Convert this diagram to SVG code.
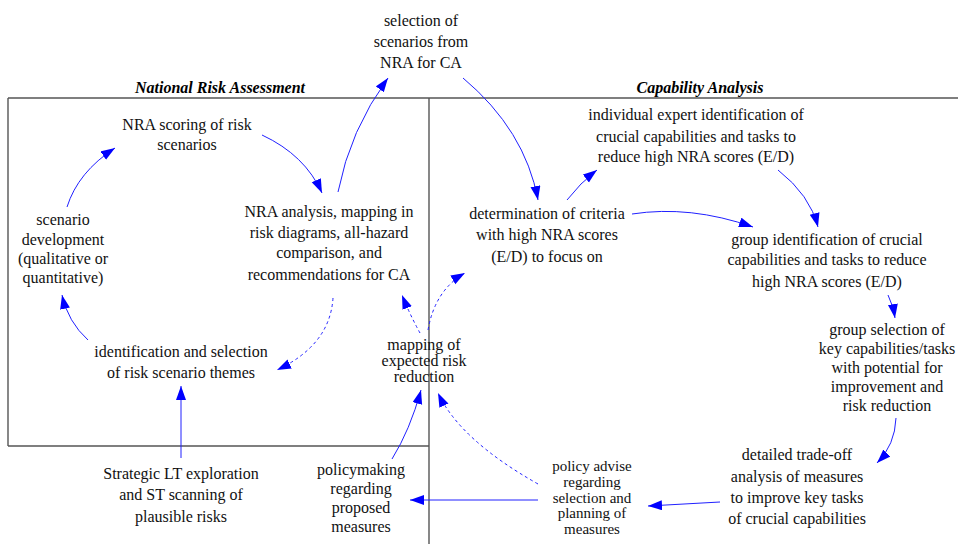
<svg xmlns="http://www.w3.org/2000/svg" width="958" height="544" viewBox="0 0 958 544">
<style>
.frame{stroke:#555;stroke-width:1.4;fill:none}
.c{stroke:#2020ff;stroke-width:1;fill:none;marker-end:url(#ah)}
.d{stroke:#2020ff;stroke-width:1;fill:none;stroke-dasharray:3,3;marker-end:url(#ah)}
</style>
<defs>
<marker id="ah" markerUnits="userSpaceOnUse" markerWidth="15" markerHeight="11" refX="14" refY="5" orient="auto">
<path d="M0,0 L14,5 L0,10 z" fill="#0000ff"/>
</marker>
</defs>
<rect width="958" height="544" fill="#fff"/>
<g id="frame">
<line class="frame" x1="8" y1="98" x2="958" y2="98"/>
<line class="frame" x1="8" y1="98" x2="8" y2="446"/>
<line class="frame" x1="8" y1="446" x2="429" y2="446"/>
<line class="frame" x1="429" y1="98" x2="429" y2="544"/>
<text font-family="Liberation Serif" font-size="16" font-weight="bold" font-style="italic" text-anchor="middle" x="220" y="93">National Risk Assessment</text>
<text font-family="Liberation Serif" font-size="16" font-weight="bold" font-style="italic" text-anchor="middle" x="700" y="93">Capability Analysis</text>
</g>
<g id="connectors">
<path class="c" d="M67,207 Q78,172 115,148"/>
<path class="c" d="M262,135 Q305,155 322,193"/>
<path class="c" d="M338,192 Q350,130 388,78"/>
<path class="c" d="M463,78 Q525,130 538,200"/>
<path class="c" d="M567,200 Q580,183 597,170"/>
<path class="c" d="M632,214 Q690,205 753,227"/>
<path class="c" d="M778,170 Q810,195 818,227"/>
<path class="c" d="M888,295 Q893,305 895,318"/>
<path class="c" d="M896,418 Q895,445 877,463"/>
<path class="c" d="M720,502 L648,506"/>
<path class="c" d="M538,500 L410,500"/>
<path class="c" d="M392,459 Q410,430 421,390"/>
<path class="d" d="M538,484 Q460,440 438,393"/>
<path class="d" d="M420,333 Q410,315 402,295"/>
<path class="d" d="M428,330 Q435,290 465,273"/>
<path class="d" d="M333,298 Q330,345 277,370"/>
<path class="c" d="M88,340 Q68,322 62,295"/>
<path class="c" d="M181,458 L181,386"/>
</g>
<g font-family="Liberation Serif" font-size="16" text-anchor="middle" fill="#111">
<g id="selection">
<text><tspan x="421" y="26">selection of</tspan><tspan x="421" y="47">scenarios from</tspan><tspan x="421" y="68">NRA for CA</tspan></text>
</g>
<g id="nra-scoring">
<text><tspan x="187" y="130">NRA scoring of risk</tspan><tspan x="187" y="150">scenarios</tspan></text>
</g>
<g id="scenario-development">
<text><tspan x="63" y="225">scenario</tspan><tspan x="63" y="245">development</tspan><tspan x="63" y="264">(qualitative or</tspan><tspan x="63" y="283">quantitative)</tspan></text>
</g>
<g id="nra-analysis">
<text><tspan x="329" y="217">NRA analysis, mapping in</tspan><tspan x="329" y="238">risk diagrams, all-hazard</tspan><tspan x="329" y="258">comparison, and</tspan><tspan x="329" y="280">recommendations for CA</tspan></text>
</g>
<g id="identification">
<text><tspan x="181" y="357">identification and selection</tspan><tspan x="181" y="378">of risk scenario themes</tspan></text>
</g>
<g id="strategic">
<text><tspan x="181" y="479">Strategic LT exploration</tspan><tspan x="181" y="500">and ST scanning of</tspan><tspan x="181" y="522">plausible risks</tspan></text>
</g>
<g id="policymaking">
<text><tspan x="361" y="475">policymaking</tspan><tspan x="361" y="494">regarding</tspan><tspan x="361" y="513">proposed</tspan><tspan x="361" y="532">measures</tspan></text>
</g>
<g id="mapping">
<text><tspan x="424" y="350">mapping of</tspan><tspan x="424" y="366">expected risk</tspan><tspan x="424" y="382">reduction</tspan></text>
</g>
<g id="determination">
<text><tspan x="547" y="219">determination of criteria</tspan><tspan x="547" y="240">with high NRA scores</tspan><tspan x="547" y="262">(E/D) to focus on</tspan></text>
</g>
<g id="individual">
<text><tspan x="696" y="120">individual expert identification of</tspan><tspan x="696" y="142">crucial capabilities and tasks to</tspan><tspan x="696" y="162">reduce high NRA scores (E/D)</tspan></text>
</g>
<g id="group-identification">
<text><tspan x="827" y="245">group identification of crucial</tspan><tspan x="827" y="265">capabilities and tasks to reduce</tspan><tspan x="827" y="287">high NRA scores (E/D)</tspan></text>
</g>
<g id="group-selection">
<text><tspan x="887" y="335">group selection of</tspan><tspan x="887" y="354">key capabilities/tasks</tspan><tspan x="887" y="373">with potential for</tspan><tspan x="887" y="392">improvement and</tspan><tspan x="887" y="411">risk reduction</tspan></text>
</g>
<g id="trade-off">
<text><tspan x="797" y="460">detailed trade-off</tspan><tspan x="797" y="482">analysis of measures</tspan><tspan x="797" y="503">to improve key tasks</tspan><tspan x="797" y="524">of crucial capabilities</tspan></text>
</g>
<g id="policy-advise">
<text font-size="15"><tspan x="592" y="471">policy advise</tspan><tspan x="592" y="487">regarding</tspan><tspan x="592" y="502.5">selection and</tspan><tspan x="592" y="518">planning of</tspan><tspan x="592" y="533.5">measures</tspan></text>
</g>
</g>
</svg>
